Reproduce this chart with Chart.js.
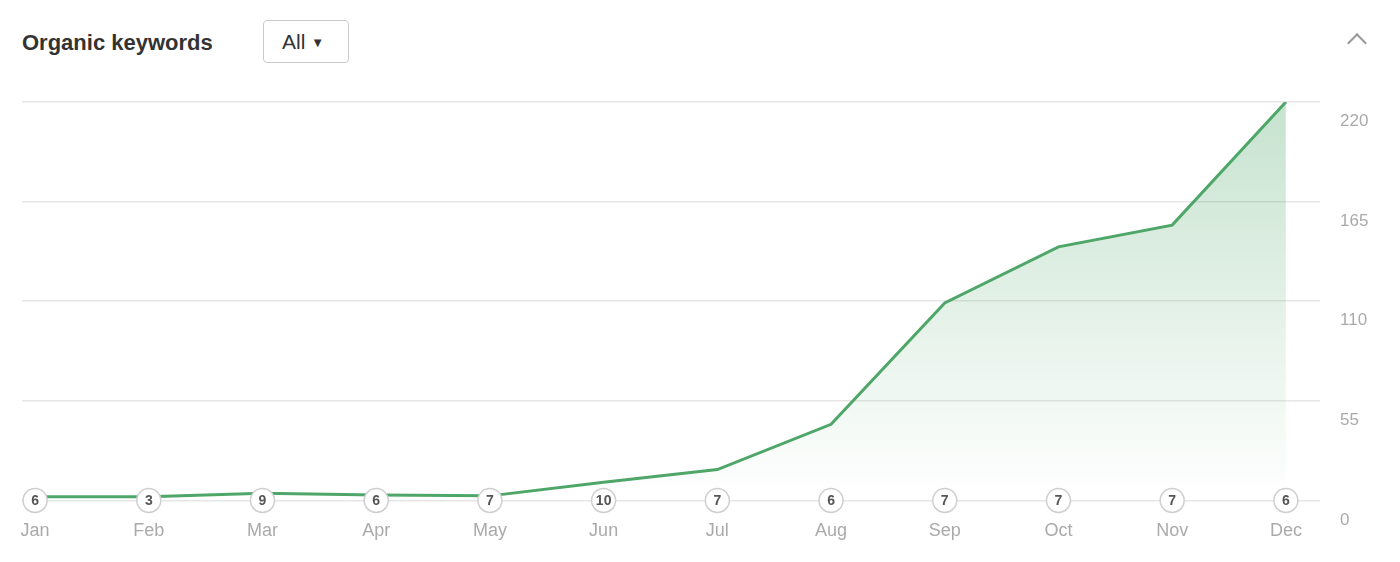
<!DOCTYPE html>
<html><head><meta charset="utf-8">
<script src="https://cdn.jsdelivr.net/npm/chart.js@4"></script>
<style>
body{margin:0;background:#fff;font-family:"Liberation Sans",Arial,sans-serif;}
#wrap{position:absolute;left:0;top:0;width:1400px;height:562px;}
#title{position:absolute;left:22px;top:30px;font-size:22px;font-weight:bold;color:#333;}
#btn{position:absolute;left:263px;top:20px;width:86px;height:43px;border:1px solid #ccc;border-radius:4px;box-sizing:border-box;font-size:21px;color:#333;line-height:41px;padding-left:18px;}
#btn span{font-size:13px;margin-left:6px;vertical-align:2px}
#caret{position:absolute;left:1350px;top:28px;width:12px;height:12px;border-left:2px solid #999;border-top:2px solid #999;transform:rotate(45deg);transform-origin:center;top:36px;}
</style></head><body>
<div id="title">Organic keywords</div>
<div id="btn">All<span>▼</span></div>
<div id="caret"></div>
<div id="wrap"><canvas id="c" width="1400" height="562"></canvas></div>
<script>
const months=["Jan","Feb","Mar","Apr","May","Jun","Jul","Aug","Sep","Oct","Nov","Dec"];
const keywords=[2,2,4,3,2.5,10,17,42,109,140,152,220];
const markers=[6,3,9,6,7,10,7,6,7,7,7,6];
const yTicks=[0,55,110,165,220];

const markerPlugin={id:'markers',afterDatasetsDraw(ch){
  const ctx=ch.ctx,x=ch.scales.x,y=ch.scales.y,yy=y.getPixelForValue(0);
  ctx.save();
  markers.forEach((m,i)=>{
    const px=x.getPixelForValue(i);
    ctx.beginPath();ctx.arc(px,yy,12,0,Math.PI*2);
    ctx.fillStyle='#fff';ctx.fill();ctx.lineWidth=1.5;ctx.strokeStyle='#cfcfcf';ctx.stroke();
    ctx.fillStyle='#555';ctx.font='bold 14px "Liberation Sans",Arial';ctx.textAlign='center';ctx.textBaseline='middle';
    ctx.fillText(String(m),px,yy+1);
  });
  ctx.restore();
}};

new Chart(document.getElementById('c'),{
  type:'line',
  data:{datasets:[{data:keywords.map((v,i)=>({x:i,y:v})),borderColor:'#4ea668',borderWidth:3,pointRadius:0,tension:0,fill:'origin',
    backgroundColor:(c)=>{const a=c.chart.chartArea;if(!a)return 'rgba(80,170,110,0.2)';const g=c.chart.ctx.createLinearGradient(0,a.top,0,a.bottom);g.addColorStop(0,'rgba(78,166,104,0.32)');g.addColorStop(1,'rgba(78,166,104,0.0)');return g;}}]},
  options:{responsive:false,animation:false,
    layout:{padding:{top:102,left:22,right:0,bottom:8}},
    plugins:{legend:{display:false},tooltip:{enabled:false}},
    scales:{
      x:{type:'linear',min:-0.115,max:11.3,grid:{display:false},border:{display:false},
        afterBuildTicks:(s)=>{s.ticks=months.map((m,i)=>({value:i}));},
        ticks:{callback:(v)=>months[v],color:'#aaa',font:{size:18,family:'"Liberation Sans",Arial'},padding:12,maxRotation:0,autoSkip:false}},
      y:{position:'right',min:0,max:220,border:{display:false},grid:{color:'#e6e6e6',lineWidth:1.5,drawTicks:false},
        afterBuildTicks:(s)=>{s.ticks=yTicks.map(v=>({value:v}));},
        afterFit:(s)=>{s.width=80;},
        ticks:{color:'#aaa',font:{size:17,family:'"Liberation Sans",Arial'},padding:20,labelOffset:28,align:'end'}}
    }},
  plugins:[markerPlugin]
});
</script></body></html>
